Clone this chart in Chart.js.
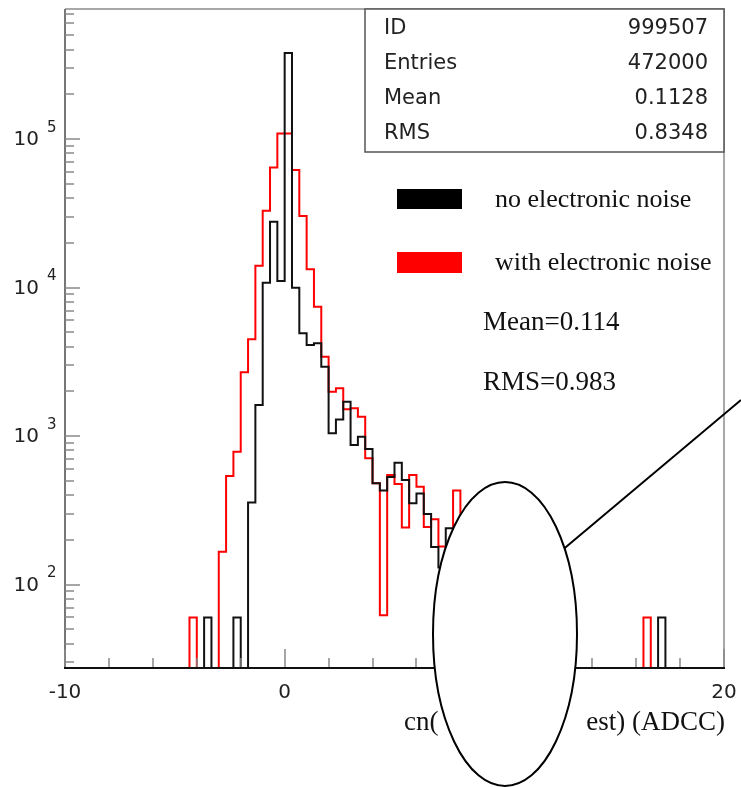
<!DOCTYPE html>
<html>
<head>
<meta charset="utf-8">
<script src="https://cdn.jsdelivr.net/npm/chart.js@4.4.1/dist/chart.umd.min.js"></script>
<style>
  html, body { margin: 0; padding: 0; background: #fff; }
</style>
</head>
<body>
<canvas id="histo" width="741" height="787"></canvas>
<script>
// --- histogram range (90 bins of 1/3 ADCC) ---
const xMin = -10, xMax = 20, nBins = 90;
const yMin = 27.4, yMax = 751000;

// counts per bin
const noNoise = [
  0, 0, 0, 0, 0, 0, 0, 0, 0, 0,
  0, 0, 0, 0, 0, 0, 0, 0, 0, 60,
  0, 0, 0, 60, 0, 356, 1618, 10770, 27730, 11070,
  379300, 9970, 4920, 4100, 4210, 2930, 1043, 1294, 1702, 869,
  989, 817, 480, 429, 530, 661, 506, 352, 410, 298,
  179, 130, 239, 150, 180, 120, 150, 90, 110, 60,
  60, 0, 60, 0, 0, 0, 0, 0, 0, 0,
  0, 0, 0, 0, 0, 0, 0, 0, 0, 0,
  0, 60, 0, 0, 0, 0, 0, 0, 0, 0
];
const withNoise = [
  0, 0, 0, 0, 0, 0, 0, 0, 0, 0,
  0, 0, 0, 0, 0, 0, 0, 60, 0, 0,
  0, 166, 538, 783, 2685, 4477, 14030, 32890, 64420, 109100,
  109100, 61800, 30270, 13280, 7430, 3420, 1987, 2094, 1514, 1538,
  1349, 708, 480, 62, 546, 475, 242, 546, 456, 244,
  275, 180, 180, 429, 210, 150, 260, 120, 90, 140,
  60, 60, 0, 60, 0, 0, 0, 0, 0, 0,
  0, 0, 0, 0, 0, 0, 0, 0, 0, 60,
  0, 0, 0, 0, 0, 0, 0, 0, 0, 0
];

// axis labels
const xMajorTicks = [-10, 0, 10, 20];
const xTickLabels = ['-10', '0', '10', '20'];
const yDecades = [1e2, 1e3, 1e4, 1e5];
const yExponents = ['2', '3', '4', '5'];

// stats box + annotations
const statNames = ['ID', 'Entries', 'Mean', 'RMS'];
const statValues = ['999507', '472000', '0.1128', '0.8348'];
const seriesNames = ['no electronic noise', 'with electronic noise'];
const noiseStats = ['Mean=0.114', 'RMS=0.983'];

// bin contents -> outline points (empty bins pushed below the axis, clipped away)
function toSteps(counts) {
  const w = (xMax - xMin) / nBins;
  const pts = counts.map((c, k) => ({ x: xMin + k * w, y: c > 0 ? c : 1 }));
  pts.push({ x: xMax, y: pts[pts.length - 1].y });
  return pts;
}

const decorations = {
  id: 'decorations',
  afterDatasetsDraw(chart) {
    const { ctx, chartArea: a, scales: { x, y } } = chart;
    ctx.save();

    // frame
    ctx.lineWidth = 2;
    ctx.strokeStyle = '#a8a8a8';
    ctx.beginPath();
    ctx.moveTo(a.left, a.top); ctx.lineTo(a.right, a.top); ctx.lineTo(a.right, a.bottom);
    ctx.stroke();
    ctx.strokeStyle = '#777';
    ctx.beginPath(); ctx.moveTo(a.left, a.top); ctx.lineTo(a.left, a.bottom); ctx.stroke();

    // y ticks (inside), decades longer
    ctx.lineWidth = 1.5;
    ctx.strokeStyle = '#888';
    for (let d = 1; d <= 5; d++) {
      for (let m = 1; m <= 9; m++) {
        const v = m * Math.pow(10, d);
        if (v < yMin || v > yMax) continue;
        const py = Math.round(y.getPixelForValue(v));
        ctx.beginPath();
        ctx.moveTo(a.left, py); ctx.lineTo(a.left + (m === 1 ? 15 : 9), py);
        ctx.stroke();
      }
    }
    // x ticks (inside)
    for (let t = xMin; t <= xMax; t += 2) {
      const px = Math.round(x.getPixelForValue(t));
      const major = xMajorTicks.includes(t);
      ctx.beginPath();
      ctx.moveTo(px, a.bottom); ctx.lineTo(px, a.bottom - (major ? 19 : 10));
      ctx.stroke();
    }

    // bottom axis
    ctx.lineWidth = 2;
    ctx.strokeStyle = '#111';
    ctx.beginPath(); ctx.moveTo(a.left - 1, a.bottom); ctx.lineTo(a.right + 1, a.bottom); ctx.stroke();

    // tick labels
    ctx.fillStyle = '#222';
    ctx.textBaseline = 'middle';
    yDecades.forEach((v, i) => {
      const py = y.getPixelForValue(v);
      ctx.font = '20px "DejaVu Sans"';
      ctx.textAlign = 'right';
      ctx.fillText('10', 39, py + 1);
      ctx.font = '15px "DejaVu Sans"';
      ctx.textAlign = 'left';
      ctx.fillText(yExponents[i], 47, py - 11);
    });
    ctx.font = '20px "DejaVu Sans"';
    ctx.textAlign = 'center';
    xMajorTicks.forEach((t, i) => {
      ctx.fillText(xTickLabels[i], x.getPixelForValue(t), 693);
    });

    // axis title
    ctx.font = '27px "Liberation Serif"';
    ctx.fillStyle = '#111';
    ctx.textAlign = 'left';
    ctx.fillText('cn(', 404, 723);
    ctx.textAlign = 'right';
    ctx.fillText('est) (ADCC)', 725, 723);

    // stats box
    ctx.fillStyle = '#fff';
    ctx.fillRect(365, a.top, a.right - 365, 152 - a.top);
    ctx.lineWidth = 1.5;
    ctx.strokeStyle = '#555';
    ctx.strokeRect(365, a.top, a.right - 365, 152 - a.top);
    ctx.fillStyle = '#222';
    ctx.font = '21px "DejaVu Sans"';
    statNames.forEach((s, i) => {
      const ry = 29 + i * 35;
      ctx.textAlign = 'left';
      ctx.fillText(s, 384, ry);
      ctx.textAlign = 'right';
      ctx.fillText(statValues[i], 708, ry);
    });

    // legend
    ctx.fillStyle = '#000';
    ctx.fillRect(397, 189, 65, 20);
    ctx.fillStyle = '#ff0000';
    ctx.fillRect(397, 252, 65, 21);
    ctx.fillStyle = '#111';
    ctx.font = '26px "Liberation Serif"';
    ctx.textAlign = 'left';
    ctx.fillText(seriesNames[0], 495, 200);
    ctx.fillText(seriesNames[1], 495, 263);
    ctx.font = '27px "Liberation Serif"';
    ctx.fillText(noiseStats[0], 483, 323);
    ctx.fillText(noiseStats[1], 483, 383);

    // annotation: pointer line + blank ellipse
    ctx.lineWidth = 2;
    ctx.strokeStyle = '#000';
    ctx.beginPath(); ctx.moveTo(560, 552); ctx.lineTo(741, 400); ctx.stroke();
    ctx.beginPath();
    ctx.ellipse(505, 634, 72, 152, 0, 0, Math.PI * 2);
    ctx.fillStyle = '#fff';
    ctx.fill();
    ctx.stroke();

    ctx.restore();
  }
};

new Chart(document.getElementById('histo'), {
  type: 'line',
  data: {
    datasets: [
      { label: seriesNames[0], data: toSteps(noNoise), borderColor: '#111', order: 0 },
      { label: seriesNames[1], data: toSteps(withNoise), borderColor: '#ff0000', order: 1 }
    ]
  },
  options: {
    responsive: false,
    animation: false,
    devicePixelRatio: 1,
    layout: { padding: { left: 65, top: 9, right: 17, bottom: 119 } },
    elements: {
      point: { radius: 0 },
      line: { borderWidth: 2, stepped: 'before', tension: 0, fill: false, borderJoinStyle: 'miter' }
    },
    datasets: { line: { clip: 0 } },
    scales: {
      x: { type: 'linear', min: xMin, max: xMax, display: false },
      y: { type: 'logarithmic', min: yMin, max: yMax, display: false }
    },
    plugins: { legend: { display: false }, tooltip: { enabled: false } }
  },
  plugins: [decorations]
});
</script>
</body>
</html>
